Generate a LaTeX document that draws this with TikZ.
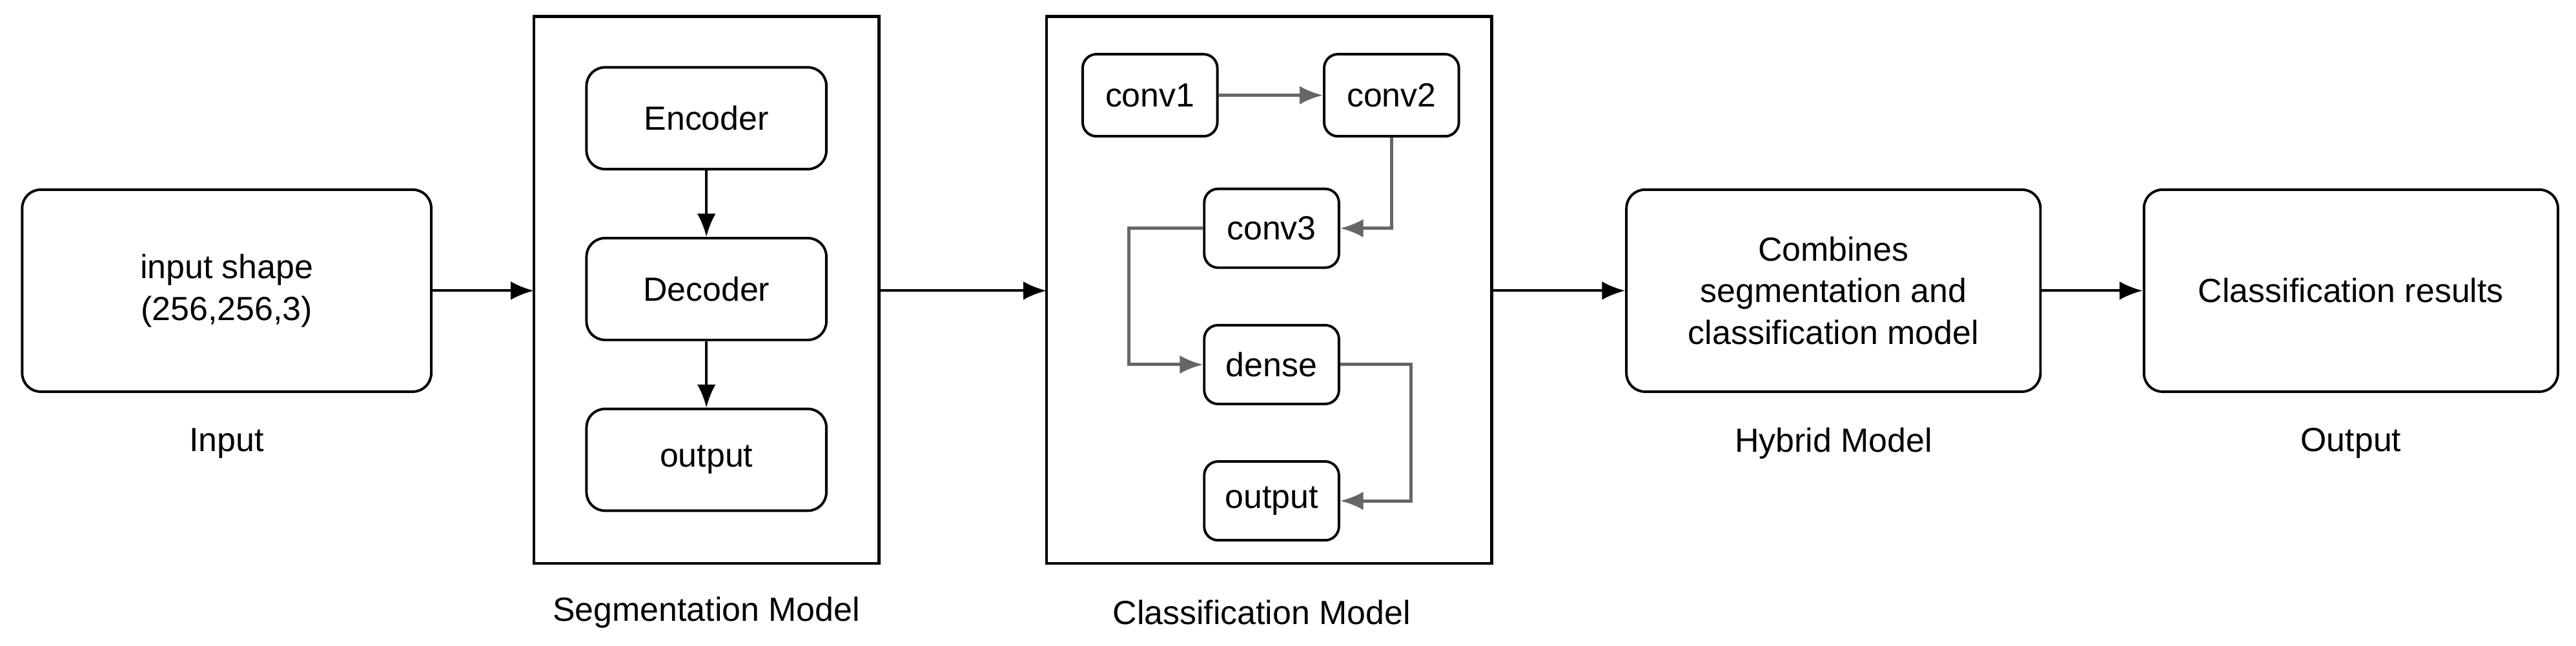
\documentclass[tikz,border=0pt]{standalone}
\usepackage{fontspec}
\setmainfont{Liberation Sans}
\usetikzlibrary{positioning,arrows.meta}
\tikzset{
	blk/.style={draw, rounded corners=8pt, line width=1.1pt, align=center, font=\fontsize{14.5}{18}\selectfont},
	frm/.style={draw, line width=1.2pt},
	lbl/.style={font=\fontsize{14.5}{18}\selectfont},
	arr/.style={-{Latex[length=10pt,width=8pt]}, line width=1.1pt},
	garr/.style={arr, draw=black!60, line width=1.4pt}
}
\begin{document}
\begin{tikzpicture}[x=0.025cm,y=-0.025cm]
	\useasboundingbox (0,0) rectangle (1568,393);
	% input
	\node[blk, minimum width=249*0.025cm, minimum height=123*0.025cm] (inp) at (138,177) {input shape\\(256,256,3)};
	\node[lbl] (inplbl) at (138,270) {Input};
	% segmentation model
	\draw[frm] (325,10) rectangle (535,343);
	\coordinate (segin) at (325,177);
	\coordinate (segout) at (535,177);
	\node[blk, minimum width=146*0.025cm, minimum height=62*0.025cm] (enc) at (430,72) {Encoder};
	\node[blk, minimum width=146*0.025cm, minimum height=62*0.025cm] (dec) at (430,176) {Decoder};
	\node[blk, minimum width=146*0.025cm, minimum height=62*0.025cm] (segout2) at (430,280) {output};
	\node[lbl] (seglbl) at (430,373) {Segmentation Model};
	\draw[arr] (enc) -- (dec);
	\draw[arr] (dec) -- (segout2);
	% classification model
	\draw[frm] (637,10) rectangle (908,343);
	\coordinate (clsin) at (637,177);
	\coordinate (clsout) at (908,177);
	\node[blk, rounded corners=6pt, minimum width=82*0.025cm, minimum height=50*0.025cm] (c1) at (700,58) {conv1};
	\node[blk, rounded corners=6pt, minimum width=82*0.025cm, minimum height=50*0.025cm] (c2) at (847,58) {conv2};
	\node[blk, rounded corners=6pt, minimum width=82*0.025cm, minimum height=48*0.025cm] (c3) at (774,139) {conv3};
	\node[blk, rounded corners=6pt, minimum width=82*0.025cm, minimum height=48*0.025cm] (dn) at (774,222) {dense};
	\node[blk, rounded corners=6pt, minimum width=82*0.025cm, minimum height=48*0.025cm] (co) at (774,305) {output};
	\node[lbl] (clslbl) at (768,373) {Classification Model};
	\draw[garr] (c1) -- (c2);
	\draw[garr] (c2.south) |- (c3.east);
	\draw[garr] (c3.west) -- ++(-45,0) |- (dn.west);
	\draw[garr] (dn.east) -- ++(43,0) |- (co.east);
	% hybrid and output
	\node[blk, minimum width=252*0.025cm, minimum height=123*0.025cm] (hyb) at (1116,177) {Combines\\segmentation and\\classification model};
	\node[lbl] (hyblbl) at (1116,270) {Hybrid Model};
	\node[blk, minimum width=252*0.025cm, minimum height=123*0.025cm] (res) at (1431,177) {Classification results};
	\node[lbl] (reslbl) at (1431,270) {Output};
	% main flow
	\draw[arr] (inp) -- (segin);
	\draw[arr] (segout) -- (clsin);
	\draw[arr] (clsout) -- (hyb);
	\draw[arr] (hyb) -- (res);
\end{tikzpicture}
\end{document}
